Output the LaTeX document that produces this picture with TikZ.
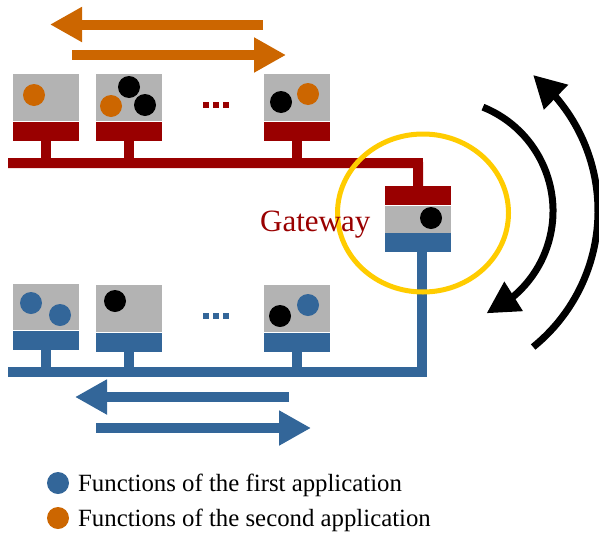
\documentclass[tikz,border=0pt]{standalone}
\usepackage{fontspec}
\setmainfont{Liberation Serif}
\usetikzlibrary{arrows.meta,bending,shapes.geometric}
\definecolor{cRed}{RGB}{153,0,0}
\definecolor{cBlue}{RGB}{51,102,153}
\definecolor{cOrange}{RGB}{204,102,0}
\definecolor{cPanel}{RGB}{179,179,179}
\definecolor{cRing}{RGB}{255,204,0}
\begin{document}
\begin{tikzpicture}[x=1pt,y=-1pt,
  panel/.style={fill=cPanel,inner sep=0,minimum width=66pt,anchor=north west,draw=none},
  base/.style={inner sep=0,minimum width=66pt,minimum height=19pt,anchor=north west,draw=none},
  fn/.style={circle,inner sep=0,minimum size=22pt,draw=none},
  sq/.style={rectangle,inner sep=0,minimum width=5.5pt,minimum height=6pt,draw=none},
  stem/.style={line width=10pt},
  bus/.style={line width=10pt,line join=miter},
  flow/.style={line width=10pt,-{Triangle[length=32pt,width=33pt]}},
  turn/.style={line width=7pt,-{Triangle[length=32pt,width=33pt,flex]}},
  lbl/.style={anchor=base west,inner sep=0}]
\useasboundingbox (0,0) rectangle (599,533);

% message flow of the second application (upper bus)
\coordinate (oa1) at (263,24.5); \coordinate (oa2) at (50,24.5);
\coordinate (ob1) at (72,55);    \coordinate (ob2) at (286,55);
\draw[flow,cOrange] (oa1) -- (oa2);
\draw[flow,cOrange] (ob1) -- (ob2);

% upper devices
\node[panel,minimum height=47pt] (t1) at (13,74) {};
\node[base,fill=cRed] (t1b) at (t1.south west) {};
\node[panel,minimum height=47pt] (t2) at (96,74) {};
\node[base,fill=cRed] (t2b) at (t2.south west) {};
\node[panel,minimum height=47pt] (t3) at (264,74) {};
\node[base,fill=cRed] (t3b) at (t3.south west) {};

\node[fn,fill=cOrange] (t1o) at (34,95) {};
\node[fn,fill=black] (t2k1) at (129,87) {};
\node[fn,fill=black] (t2k2) at (145,105) {};
\node[fn,fill=cOrange] (t2o) at (111,106) {};
\node[fn,fill=black] (t3k) at (281,102) {};
\node[fn,fill=cOrange] (t3o) at (308,94) {};

\node[sq,fill=cRed] (td1) at (206,105) {};
\node[sq,fill=cRed] (td2) at (216,105) {};
\node[sq,fill=cRed] (td3) at (226,105) {};

% gateway device
\node[base,fill=cRed] (gR) at (385,186) {};
\node[panel,minimum height=27pt] (gG) at (gR.south west) {};
\node[base,fill=cBlue] (gB) at (gG.south west) {};
\node[fn,fill=black] (gk) at (431,218) {};

% upper bus
\coordinate (rbL) at (8,163);
\coordinate (rbC) at (418,163);
\draw[bus,cRed] (rbL) -- (rbC) -- (gR.north);
\draw[stem,cRed] (t1b.south) -- (t1b.south |- rbL);
\draw[stem,cRed] (t2b.south) -- (t2b.south |- rbL);
\draw[stem,cRed] (t3b.south) -- (t3b.south |- rbL);

% lower devices
\node[panel,minimum height=46pt] (b1) at (13,284) {};
\node[base,fill=cBlue] (b1b) at (b1.south west) {};
\node[panel,minimum height=47pt] (b2) at (96,285) {};
\node[base,fill=cBlue] (b2b) at (b2.south west) {};
\node[panel,minimum height=47pt] (b3) at (264,285) {};
\node[base,fill=cBlue] (b3b) at (b3.south west) {};

\node[fn,fill=cBlue] (b1u1) at (31,303) {};
\node[fn,fill=cBlue] (b1u2) at (60,315) {};
\node[fn,fill=black] (b2k) at (115,301) {};
\node[fn,fill=black] (b3k) at (280,316) {};
\node[fn,fill=cBlue] (b3u) at (308,305) {};

\node[sq,fill=cBlue] (bd1) at (206,316) {};
\node[sq,fill=cBlue] (bd2) at (216,316) {};
\node[sq,fill=cBlue] (bd3) at (226,316) {};

% lower bus
\coordinate (bbL) at (8,372);
\coordinate (bbC) at (422,372);
\draw[bus,cBlue] (gB.south -| bbC) -- (bbC) -- (bbL);
\draw[stem,cBlue] (b1b.south) -- (b1b.south |- bbL);
\draw[stem,cBlue] (b2b.south) -- (b2b.south |- bbL);
\draw[stem,cBlue] (b3b.south) -- (b3b.south |- bbL);

% message flow of the first application (lower bus)
\coordinate (ba1) at (289,397); \coordinate (ba2) at (75,397);
\coordinate (bb1) at (96,428);  \coordinate (bb2) at (311,428);
\draw[flow,cBlue] (ba1) -- (ba2);
\draw[flow,cBlue] (bb1) -- (bb2);

% gateway ring
\node[ellipse,draw=cRing,line width=5pt,inner sep=0,
      minimum width=171pt,minimum height=158pt] (ring) at (423,213) {};
\node[lbl,text=cRed,font=\fontsize{31}{31}\selectfont] (gwlabel) at (260,231.7) {Gateway};

% translation between the two applications
\coordinate (ci) at (441,211);
\coordinate (co) at (423,211);
\draw[turn] (ci) ++(-68:112) arc[start angle=-68,end angle=66,radius=112];
\draw[turn] (co) ++(51:175) arc[start angle=51,end angle=-51,radius=175];

% legend
\node[fn,fill=cBlue] (k1) at (58,483) {};
\node[lbl,font=\fontsize{24.8}{25}\selectfont] (k1t) at (78,491.7) {Functions of the first application};
\node[fn,fill=cOrange] (k2) at (58,518) {};
\node[lbl,font=\fontsize{24.8}{25}\selectfont] (k2t) at (78,526.7) {Functions of the second application};
\end{tikzpicture}
\end{document}
